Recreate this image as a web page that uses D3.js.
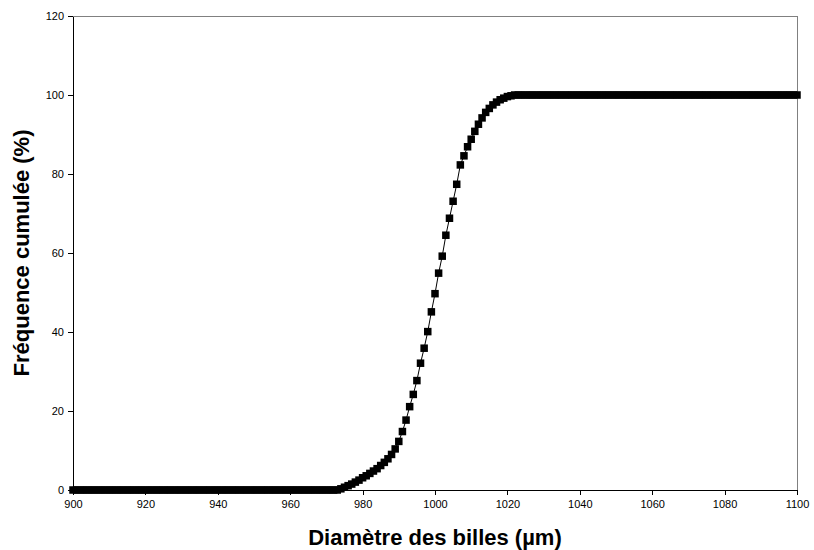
<!DOCTYPE html>
<html>
<head>
<meta charset="utf-8">
<script src="https://cdnjs.cloudflare.com/ajax/libs/d3/7.8.5/d3.min.js"></script>
<style>
  body { margin: 0; background: #fff; }
  svg { display: block; font-family: 'Liberation Sans', Arial, sans-serif; }
  .tick text { font-size: 11px; fill: #000; }
  .axis-title { font-size: 22px; font-weight: bold; fill: #000; }
</style>
</head>
<body>
<div id="container"></div>
<script>
// Cumulative frequency of bead diameters

//_____ DATA _____
const diameters = [
  900, 901, 902, 903, 904, 905, 906, 907, 908, 909, 910, 911, 912, 913, 914, 915, 916, 917, 918, 919,
  920, 921, 922, 923, 924, 925, 926, 927, 928, 929, 930, 931, 932, 933, 934, 935, 936, 937, 938, 939,
  940, 941, 942, 943, 944, 945, 946, 947, 948, 949, 950, 951, 952, 953, 954, 955, 956, 957, 958, 959,
  960, 961, 962, 963, 964, 965, 966, 967, 968, 969, 970, 971, 972, 973, 974, 975, 976, 977, 978, 979,
  980, 981, 982, 983, 984, 985, 986, 987, 988, 989, 990, 991, 992, 993, 994, 995, 996, 997, 998, 999,
  1000, 1001, 1002, 1003, 1004, 1005, 1006, 1007, 1008, 1009, 1010, 1011, 1012, 1013, 1014, 1015, 1016, 1017, 1018, 1019,
  1020, 1021, 1022, 1023, 1024, 1025, 1026, 1027, 1028, 1029, 1030, 1031, 1032, 1033, 1034, 1035, 1036, 1037, 1038, 1039,
  1040, 1041, 1042, 1043, 1044, 1045, 1046, 1047, 1048, 1049, 1050, 1051, 1052, 1053, 1054, 1055, 1056, 1057, 1058, 1059,
  1060, 1061, 1062, 1063, 1064, 1065, 1066, 1067, 1068, 1069, 1070, 1071, 1072, 1073, 1074, 1075, 1076, 1077, 1078, 1079,
  1080, 1081, 1082, 1083, 1084, 1085, 1086, 1087, 1088, 1089, 1090, 1091, 1092, 1093, 1094, 1095, 1096, 1097, 1098, 1099,
  1100
];

const cumulFreq = [
  0, 0, 0, 0, 0, 0, 0, 0, 0, 0, 0, 0, 0, 0, 0, 0, 0, 0, 0, 0,
  0, 0, 0, 0, 0, 0, 0, 0, 0, 0, 0, 0, 0, 0, 0, 0, 0, 0, 0, 0,
  0, 0, 0, 0, 0, 0, 0, 0, 0, 0, 0, 0, 0, 0, 0, 0, 0, 0, 0, 0,
  0, 0, 0, 0, 0, 0, 0, 0, 0, 0, 0, 0, 0, 0, 0.3, 0.7, 1.1, 1.5, 2.0, 2.5,
  3.1, 3.6, 4.2, 4.8, 5.4, 6.2, 7.0, 7.9, 9.0, 10.4, 12.3, 14.8, 17.7, 21.1, 24.2, 27.7, 32.1, 35.9, 40.1, 45.1,
  49.7, 54.9, 59.2, 64.5, 68.8, 73.1, 77.4, 82.3, 84.6, 86.9, 88.8, 90.8, 92.6, 94.2, 95.6, 96.6, 97.5, 98.2, 98.8, 99.2,
  99.6, 99.8, 100, 100, 100, 100, 100, 100, 100, 100, 100, 100, 100, 100, 100, 100, 100, 100, 100, 100,
  100, 100, 100, 100, 100, 100, 100, 100, 100, 100, 100, 100, 100, 100, 100, 100, 100, 100, 100, 100,
  100, 100, 100, 100, 100, 100, 100, 100, 100, 100, 100, 100, 100, 100, 100, 100, 100, 100, 100, 100,
  100, 100, 100, 100, 100, 100, 100, 100, 100, 100, 100, 100, 100, 100, 100, 100, 100, 100, 100, 100,
  100
];

const xTicks = [900, 920, 940, 960, 980, 1000, 1020, 1040, 1060, 1080, 1100];
const yTicks = [0, 20, 40, 60, 80, 100, 120];

const xTitle = 'Diamètre des billes (µm)';
const yTitle = 'Fréquence cumulée (%)';

//_____ LAYOUT _____
const W = 814, H = 550;
const margin = { top: 16, right: 17, bottom: 60, left: 73 };
const width = W - margin.left - margin.right;
const height = H - margin.top - margin.bottom;

const data = diameters.map( ( d, i ) => ( { x: d, y: cumulFreq[ i ] } ) );

//_____ SCALES _____
const xScale = d3.scaleLinear().domain( [ 900, 1100 ] ).range( [ 0, width ] );
const yScale = d3.scaleLinear().domain( [ 0, 120 ] ).range( [ height, 0 ] );

const svg = d3.select( '#container' )
  .append( 'svg' )
  .attr( 'width', W )
  .attr( 'height', H );

const g = svg.append( 'g' )
  .attr( 'transform', `translate(${margin.left},${margin.top})` );

//>>> plot frame (grey top / right)
g.append( 'rect' )
  .attr( 'x', 0 ).attr( 'y', 0 )
  .attr( 'width', width ).attr( 'height', height )
  .attr( 'fill', 'none' )
  .attr( 'stroke', '#808080' )
  .attr( 'stroke-width', 1 )
  .attr( 'shape-rendering', 'crispEdges' );

//_____ AXES _____
const xAxis = d3.axisBottom( xScale ).tickValues( xTicks ).tickFormat( d3.format( 'd' ) )
  .tickSize( 5 ).tickSizeOuter( 0 ).tickPadding( 5 );
const yAxis = d3.axisLeft( yScale ).tickValues( yTicks ).tickFormat( d3.format( 'd' ) )
  .tickSize( 5 ).tickSizeOuter( 0 ).tickPadding( 4 );

const gx = g.append( 'g' )
  .attr( 'id', 'x-axis' )
  .attr( 'transform', `translate(0,${height})` )
  .call( xAxis );

const gy = g.append( 'g' )
  .attr( 'id', 'y-axis' )
  .call( yAxis );

[ gx, gy ].forEach( a => {
  a.selectAll( 'path, line' ).attr( 'stroke', '#000' ).attr( 'shape-rendering', 'crispEdges' );
  a.selectAll( 'text' ).style( 'font-family', "'Liberation Sans', Arial, sans-serif" );
} );

//_____ LINE + MARKERS _____
const line = d3.line()
  .x( d => xScale( d.x ) )
  .y( d => yScale( d.y ) );

g.append( 'path' )
  .datum( data )
  .attr( 'd', line )
  .attr( 'fill', 'none' )
  .attr( 'stroke', '#000' )
  .attr( 'stroke-width', 1 );

const ms = 7.5;
g.selectAll( '.marker' )
  .data( data )
  .enter()
  .append( 'rect' )
  .attr( 'class', 'marker' )
  .attr( 'x', d => xScale( d.x ) - ms / 2 )
  .attr( 'y', d => yScale( d.y ) - ms / 2 )
  .attr( 'width', ms )
  .attr( 'height', ms )
  .attr( 'fill', '#000' );

//_____ AXIS TITLES _____
svg.append( 'text' )
  .attr( 'class', 'axis-title' )
  .attr( 'x', margin.left + width / 2 )
  .attr( 'y', 545 )
  .attr( 'text-anchor', 'middle' )
  .text( xTitle );

svg.append( 'text' )
  .attr( 'class', 'axis-title' )
  .attr( 'transform', `translate(29,${margin.top + height / 2}) rotate(-90)` )
  .attr( 'text-anchor', 'middle' )
  .text( yTitle );
</script>
</body>
</html>
